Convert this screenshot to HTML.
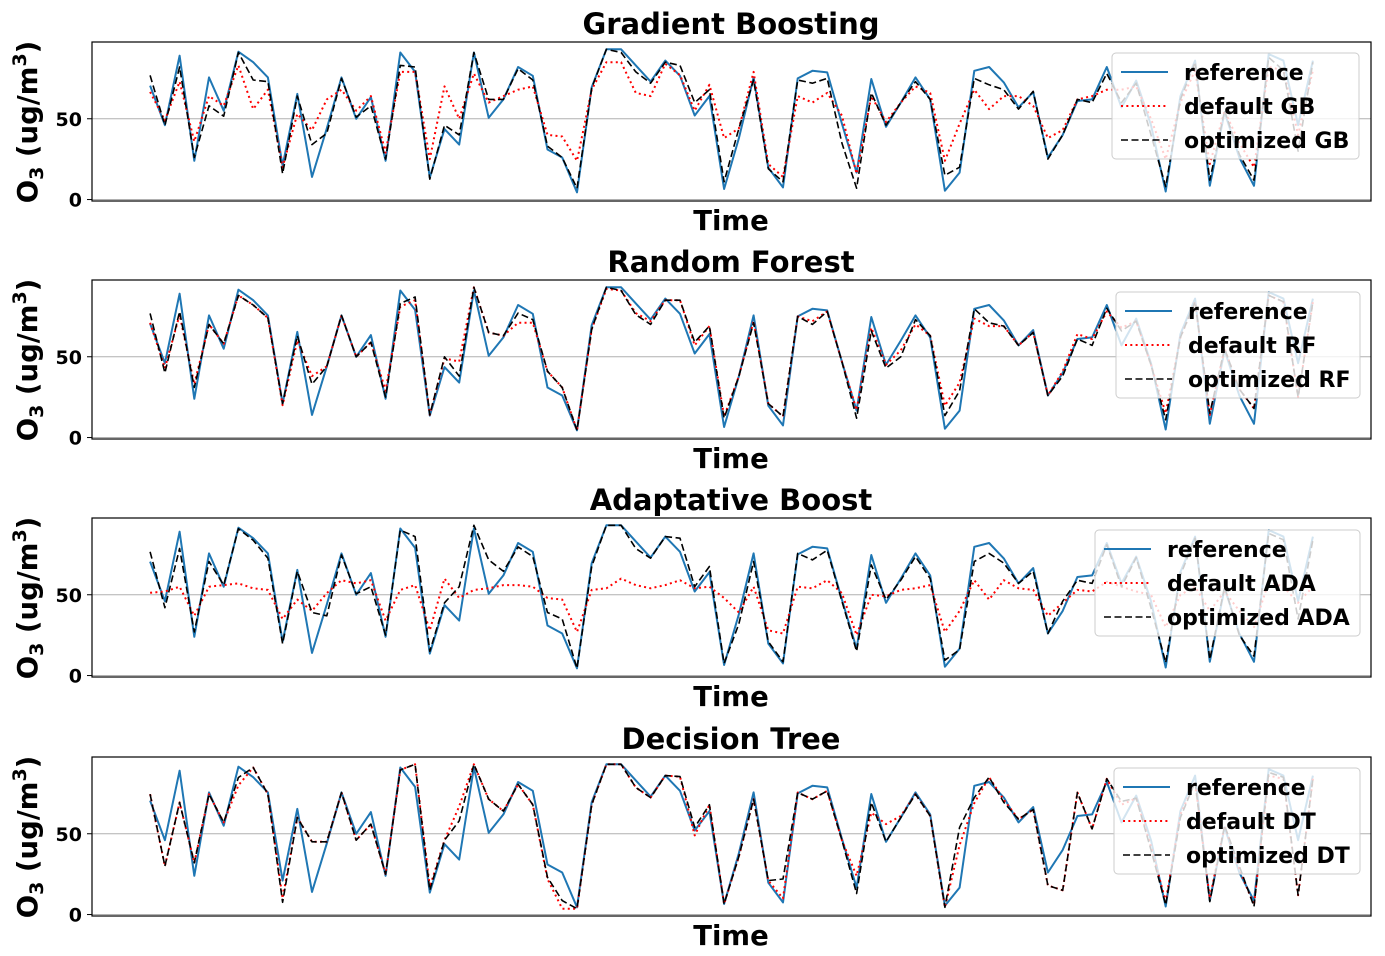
<!DOCTYPE html>
<html><head><meta charset="utf-8"><style>
html,body{margin:0;padding:0;background:#fff;}
svg{display:block;font-family:"DejaVu Sans","Liberation Sans",sans-serif;}
</style></head><body>
<svg id="chart" width="1385" height="956" viewBox="0 0 1385 956"></svg>
<script>
const reference=[70.5,46,89,24,75.6,55,91.5,85,75.6,21,65.4,14,44,75.6,50,63.4,24,91,79,13.6,43.6,34,91,50.6,62,82,76.6,31,26,4.5,69.5,93,93,83,73,86,76.6,52,64,6.5,38,75.6,19.7,7.5,75,79.7,78.7,47,16.7,74.6,45,60,75.6,62,5.5,16.7,79.7,82,72.5,57,66.5,26,40,61,62,82,57,73.6,46,5,64,86,8.5,54,26,8.5,90,86,46,86];
const gbDefault=[66.6,49,73,36,64,58,83,56,68,20,53,43,62,68,55,64,29,79,79,25,70,50,78,60,64,68,70,40,39,24,68,85,85,66,64,84,77,55,71,38,44,79,22,14,64,60,66,52,16,64,48,60,70,66,24,47,68,56,64,64,58,38,43,62,64,68,68,70,50,25,60,80,22,55,35,20,82,80,40,80];
const gbOptimized=[76.8,46,82,26,58,51.6,91,74,73,16,64,34,41,75,51,58,25,83,82,12.6,46,40,91,62,62,81,74,33,26,7,69,93,91,79,72,85,83,60,68,11,44,74,19,11,74,72,75,35,7,66,46,60,73,62,15,20,75,71,68,56,67,25,40,62,60,78,60,72,40,8,62,85,12,55,28,12,88,80,30,85];
const rfDefault=[71,43,76,33,70,58,88,82,74,20,60,38,44,75.6,50,59,29,81,85,14,49,47,93,65,63,71,71,41,31,4.5,67,92,91,77,72,85,85,57,69,13,38,72,21,13,75,72,78,47,17,68,45,54,70,63,19.7,34,73.6,69,69,57,65,26,41,64,61,78,68,72,45,15,62,84,14,55,30,18,88,84,25,84];
const rfOptimized=[76.8,40,78,31,70,58,88,82,74,21,63,33,44,75.6,50,59,25,83,87,14,50,38,93,65,63,77,73,41,31,4.5,67,93,91,76,70,85,85,59,69,12,38,71,21,13,75,70,78,47,12,66,43,50,73,63,13.6,29,79.7,71,69,57,65,26,38,61,57,80,66,72,45,11,62,84,15,55,30,18,88,84,25,84];
const adaDefault=[51.2,52,55,37,55,56,57,54,53,35,47,40,51,59,57,59,34,53,56,28,60,48,53,54,56,56,55,48,47,27,53,54,60,56,54,56,59,54,55,48,39,55,28,26,55,54,59,51,25,50,49,53,54,56,27,40,59,47,59,54,53,37,45,53,52,58,55,52,50,30,50,55,40,52,40,30,58,55,45,55];
const adaOptimized=[76.6,42,78.6,27,70.6,56,90.9,83.7,72.6,19.7,64.5,39,37,74.6,50.6,55,25,90,86,15,45,55,93,71.6,64.5,79.6,73.6,39,35,4.5,67.5,93,93,78.6,72.6,86,85,55,67.5,7.5,32,70.6,21,8.5,75.6,71.6,77.6,46,15,68.5,47,59,73.6,60,9.5,16,70.6,75.6,69.6,57,64.5,26,46,59,57,81,55,73,42,8,62,85,10,55,25,12,88,84,35,84];
const dtDefault=[74.5,30,69.4,32,74.5,57,80,91,74.5,10,60,45,45,75.5,46,56,25,89.5,93,17,46,67,93,71.4,64,80.6,68,22,3.6,3.6,68,93,93,78.6,72.4,86,85.4,49,68,6.6,36,71.4,21,10,75.5,71.4,76.5,46,24,63,56,61,74.5,61,4.5,43,69,85,71,59,65,18,15,75.5,53,84,68,72,42,8,62,82,10,55,28,6,86,84,12,84];
const dtOptimized=[74.5,30,69.4,32,74.5,57,84.8,91,74.5,7.6,60,45,45,75.5,46,56,25,89.5,93,15,46,58,93,71.4,64,80.6,68,23,8.6,3.6,68,93,93,78.6,72.4,86,85.4,54,68,6.6,36,71.4,21,22,75.5,71.4,76.5,46,13,69.4,45,60,74.5,61,4.5,54,72.4,85,69.4,59,65,18,15,75.5,53,84,70,72,40,6,60,82,8,55,30,5,88,85,12,84];
const yTicks=[0,50];
const panelTitles=["Gradient Boosting","Random Forest","Adaptative Boost","Decision Tree"];
const legendDefault=["default GB","default RF","default ADA","default DT"];
const legendOptimized=["optimized GB","optimized RF","optimized ADA","optimized DT"];
const defaults=[gbDefault,rfDefault,adaDefault,dtDefault];
const optimized=[gbOptimized,rfOptimized,adaOptimized,dtOptimized];

const NS="http://www.w3.org/2000/svg";
const svg=document.getElementById('chart');
function mk(tag,attrs,parent){const e=document.createElementNS(NS,tag);for(const k in attrs)e.setAttribute(k,attrs[k]);(parent||svg).appendChild(e);return e;}
const X0=92,X1=1371,PH=159;
const tops=[42,280,518,757];
const legendBoxes=[[1112,53,247],[1116,292,244],[1095,530,265],[1114,768,246]];
const xMin=-3.95,xMax=reference.length-1+3.95;
const yMin=-0.9,yMax=97.5;
function xs(i){return X0+(i-xMin)/(xMax-xMin)*(X1-X0);}

tops.forEach((top,p)=>{
  const ys=v=>top+PH-(v-yMin)/(yMax-yMin)*PH;
  const g=mk('g',{});
  
  
  yTicks.forEach(t=>{
    const gl=mk('line',{x1:X0,x2:X1,y1:ys(t),y2:ys(t),stroke:'#b0b0b0','stroke-width':1},g);
    
    
    const tk=mk('line',{x1:X0-5,x2:X0,y1:ys(t),y2:ys(t),stroke:'#000','stroke-width':1},g);
    
    
    const tl=mk('text',{x:X0-10,y:ys(t)+7,'text-anchor':'end','font-size':19,'font-weight':'bold'},g);
    tl.textContent=t;
    
    
  });
  function series(arr,color,dash,w,name){
    const pts=arr.map((v,i)=>xs(i).toFixed(1)+','+ys(v).toFixed(1)).join(' ');
    const a={points:pts,fill:'none',stroke:color,'stroke-width':w,'stroke-linejoin':'round'};
    if(dash)a['stroke-dasharray']=dash;
    const l=mk('polyline',a,g);
    
    
  }
  series(reference,'#1f77b4',null,2,'reference-line');
  series(defaults[p],'#ff0000','2,3.3',2,'default-line');
  series(optimized[p],'#000000','7,3.5',1.6,'optimized-line');
  const fr=mk('rect',{x:X0,y:top,width:X1-X0,height:PH,fill:'none',stroke:'#000','stroke-width':1.2},g);
  
  
  const tt=mk('text',{x:731,y:top-8,'text-anchor':'middle','font-size':29,'font-weight':'bold'},g);
  tt.textContent=panelTitles[p];
  
  
  const xl=mk('text',{x:731,y:top+PH+29,'text-anchor':'middle','font-size':27.5,'font-weight':'bold'},g);
  xl.textContent='Time';
  
  
  const yl=mk('text',{transform:'translate(37,'+(top+80)+') rotate(-90)','text-anchor':'middle','font-size':27.5,'font-weight':'bold'},g);
  yl.innerHTML='O<tspan font-size="19" dy="6">3</tspan><tspan dy="-6"> (ug/m</tspan><tspan font-size="19" dy="-11">3</tspan><tspan dy="11">)</tspan>';
  
  
  const [lx,ly,lw]=legendBoxes[p];
  const lg=mk('g',{},g);
  
  
  mk('rect',{x:lx,y:ly,width:lw,height:106,rx:4,fill:'rgba(255,255,255,0.8)',stroke:'#cccccc','stroke-width':1},lg);
  const labels=['reference',legendDefault[p],legendOptimized[p]];
  const styles=[['#1f77b4',null,2],['#ff0000','2,3.3',2],['#000','7,3.5',1.6]];
  labels.forEach((lab,k)=>{
    const cy=ly+19+k*34;
    const a={x1:lx+9,x2:lx+56,y1:cy,y2:cy,stroke:styles[k][0],'stroke-width':styles[k][2]};
    if(styles[k][1])a['stroke-dasharray']=styles[k][1];
    const sw=mk('line',a,lg);
    
    
    const tx=mk('text',{x:lx+72,y:cy+8,'font-size':22,'font-weight':'bold'},lg);
    tx.textContent=lab;
    
    
  });
});
</script>
</body></html>
